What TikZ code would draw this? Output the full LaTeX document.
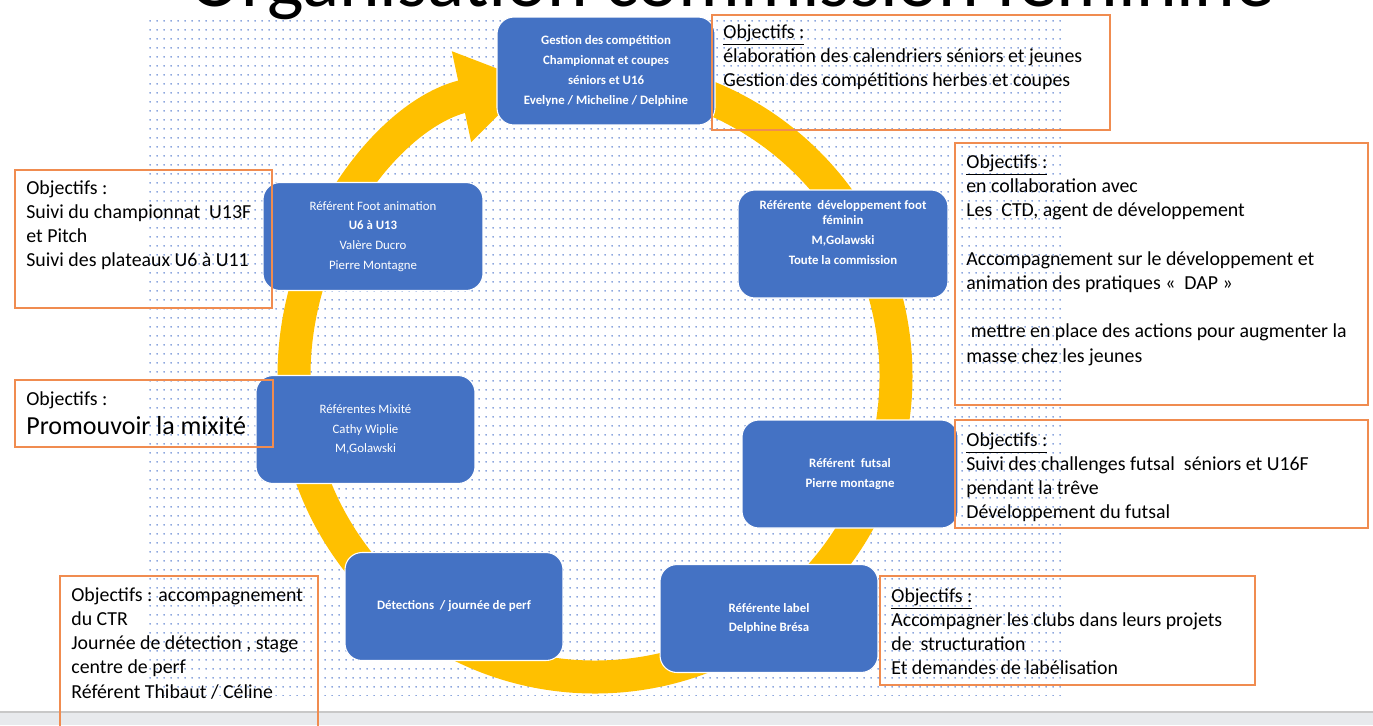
\documentclass[tikz,border=0pt]{standalone}
\usepackage{fontspec}
\setmainfont{Carlito}
\usetikzlibrary{arrows.meta,patterns.meta}

\definecolor{roleblue}{RGB}{68,114,196}
\definecolor{ringyellow}{RGB}{255,192,0}
\definecolor{goalorange}{RGB}{240,140,80}
\definecolor{dotblue}{RGB}{80,120,205}
\definecolor{barback}{RGB}{232,234,237}
\definecolor{barline}{RGB}{200,200,200}

\tikzdeclarepattern{
  name=bgdots,
  type=uncolored,
  bounding box={(0,0) and (4pt,4.9pt)},
  tile size={(4pt,4.9pt)},
  code={\fill (2pt,2.45pt) circle (.5pt);}
}

\tikzset{
  role/.style={draw=white, line width=.6pt, fill=roleblue, rounded corners=.34cm,
    minimum width=4.36cm, minimum height=2.16cm, text=white, align=center,
    font=\fontsize{7.3}{11.3}\selectfont\bfseries},
  goal/.style={draw=goalorange, line width=.7pt, inner sep=0pt},
  goaltext/.style={anchor=north west, inner sep=0pt, align=left,
    font=\fontsize{11.3}{13.8}\selectfont},
}

\begin{document}
\begin{tikzpicture}[x=.02cm, y=-.02cm]
    \useasboundingbox (0,0) rectangle (1373,725);
    \clip (0,0) rectangle (1373,725);
    \fill[white] (0,0) rectangle (1373,725);
    % dotted background
    \fill[pattern=bgdots, pattern color=dotblue] (145,18) rectangle (1065,695);
    % bottom bar
    \fill[barback] (0,712) rectangle (1373,725);
    \draw[barline, line width=.6pt] (0,712) -- (1373,712);
    % title, cut by the page top
    \node[anchor=base, inner sep=0pt, font=\fontsize{44}{44}\selectfont] (title) at (732,6) {Organisation commission féminine};
    % yellow ring
    \draw[ringyellow, line width=.66cm, -{Triangle[width=1.75cm,length=1.45cm]}]
        (595,376) ++(-92:301) arc[start angle=-92, delta angle=350, radius=301];
    % roles
    \node[role] (comp) at (606,71) {Gestion des compétition\\Championnat et coupes\\séniors et U16\\Evelyne / Micheline / Delphine};
    \node[role, minimum width=4.2cm] (dev) at (843,244) {Référente\ \ développement foot\\[-2.8pt]féminin\\M,Golawski\\Toute la commission\\[1.7pt]\mbox{}};
    \node[role, minimum width=4.4cm, font=\fontsize{7.3}{11.3}\selectfont] (anim) at (373,236.5) {Référent Foot animation\\\textbf{U6 à U13}\\Valère Ducro\\Pierre Montagne};
    \node[role, minimum width=4.38cm, font=\fontsize{7.3}{11.3}\selectfont] (mixite) at (365.5,429.5) {Référentes Mixité\\Cathy Wiplie\\M,Golawski};
    \node[role, minimum width=4.32cm] (futsal) at (850,474) {Référent\ \ futsal\\Pierre montagne};
    \node[role] (detect) at (454,606.5) {Détections\ \ / journée de perf};
    \node[role] (label) at (769,618.5) {Référente label\\Delphine Brésa};
    % objectifs frames
    \node[goal, minimum width=7.96cm, minimum height=2.3cm] (goalcomp) at (911,72.5) {};
    \node[goal, minimum width=8.26cm, minimum height=5.24cm] (goaldev) at (1161.5,274) {};
    \node[goal, minimum width=5.14cm, minimum height=2.76cm] (goalanim) at (143.5,239) {};
    \node[goal, minimum width=5.16cm, minimum height=1.34cm] (goalmixite) at (144,413.5) {};
    \node[goal, minimum width=8.26cm, minimum height=2.16cm] (goalfutsal) at (1161.5,474) {};
    \node[goal, minimum width=7.5cm, minimum height=2.18cm] (goallabel) at (1067.5,630.5) {};
    \node[goal, minimum width=5.16cm, minimum height=3.18cm] (goaldetect) at (189,655.5) {};
    % objectifs texts
    \node[goaltext] (txtcomp) at (723,24) {\underline{Objectifs :}\\élaboration des calendriers séniors et jeunes\\Gestion des compétitions herbes et coupes};
    \node[goaltext] (txtdev) at (966,154) {\underline{Objectifs :}\\en collaboration avec\\Les\ \ CTD, agent de développement\\[13.8pt]Accompagnement sur le développement et\\animation des pratiques «\ \ DAP »\\[13.8pt]\ mettre en place des actions pour augmenter la\\masse chez les jeunes};
    \node[goaltext] (txtanim) at (26,180) {Objectifs :\\Suivi du championnat\ \ U13F\\et Pitch\\Suivi des plateaux U6 à U11};
    \node[goaltext] (txtmixite) at (26,391) {Objectifs :\\[3pt]{\fontsize{14.8}{17}\selectfont Promouvoir la mixité}};
    \node[goaltext] (txtfutsal) at (966,432) {\underline{Objectifs :}\\Suivi des challenges futsal\ \ séniors et U16F\\pendant la trêve\\Développement du futsal};
    \node[goaltext] (txtlabel) at (891,588) {\underline{Objectifs :}\\Accompagner les clubs dans leurs projets\\de\ \ structuration\\Et demandes de labélisation};
    \node[goaltext] (txtdetect) at (71,587) {Objectifs : accompagnement\\du CTR\\Journée de détection , stage\\centre de perf\\Référent Thibaut / Céline};
\end{tikzpicture}
\end{document}
